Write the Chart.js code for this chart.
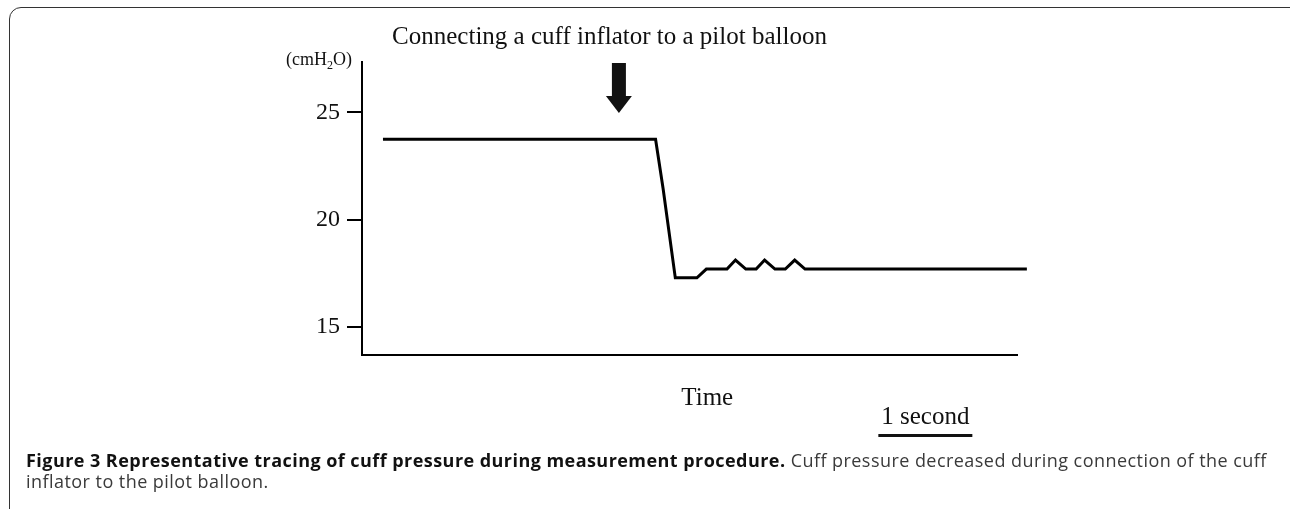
<!DOCTYPE html>
<html>
<head>
<meta charset="utf-8">
<script src="https://cdn.jsdelivr.net/npm/chart.js@4.4.0/dist/chart.umd.min.js"></script>
<style>
  html, body { margin: 0; padding: 0; background: #fff; }
  body { width: 1290px; height: 509px; position: relative; overflow: hidden; }
  #frame {
    position: absolute; left: 9px; top: 7px; width: 1300px; height: 520px;
    border: 1.5px solid #333; border-radius: 12px; box-sizing: border-box;
  }
  #wrap { position: absolute; left: 0; top: 0; width: 1290px; height: 509px; }
  #caption {
    position: absolute; left: 26px; top: 450px; width: 1262px;
    font-family: "Open Sans", sans-serif; font-size: 18px; line-height: 21px;
    letter-spacing: 0.45px; color: #3a3a3a; white-space: nowrap;
  }
  #caption b { color: #111; }
</style>
</head>
<body>
<div id="frame"></div>
<div id="wrap"><canvas id="chart1"></canvas></div>
<div id="caption"><b>Figure 3 Representative tracing of cuff pressure during measurement procedure.</b> Cuff pressure decreased during connection of the cuff<br>inflator to the pilot balloon.</div>

<script>
// time in seconds, pressure in cmH2O
var timeSec  = [0, 2.90, 2.98, 3.11, 3.34, 3.44, 3.66, 3.75, 3.86, 3.97, 4.06, 4.17, 4.28, 4.38, 4.49, 6.85];
var pressure = [23.75, 23.75, 21.45, 17.28, 17.28, 17.69, 17.69, 18.11, 17.69, 17.69, 18.11, 17.69, 17.69, 18.11, 17.69, 17.69];
var yTicks = [15, 20, 25];

var eventLabel = "Connecting a cuff inflator to a pilot balloon";
var eventTime = 2.51;      // where the arrow points
var scaleBar = [5.27, 6.27]; // 1 second

var points = [];
for (var i = 0; i < timeSec.length; i++) {
    points.push({x: timeSec[i], y: pressure[i]});
}

var serif = '"Liberation Serif", "Times New Roman", serif';

// texts and arrow around the plot
var extras = {
    id: "extras",
    afterDraw: function(chart) {
        var ctx = chart.ctx;
        var xs = chart.scales.x;
        var area = chart.chartArea;
        ctx.save();
        ctx.fillStyle = "#111";

        // label above the arrow
        ctx.font = "25px " + serif;
        ctx.textAlign = "center";
        ctx.textBaseline = "alphabetic";
        ctx.fillText(eventLabel, xs.getPixelForValue(2.41), area.top - 18);

        // arrow
        var ax = xs.getPixelForValue(eventTime);
        ctx.fillRect(ax - 7, area.top + 1, 14, 35);
        ctx.beginPath();
        ctx.moveTo(ax - 13, area.top + 34);
        ctx.lineTo(ax + 13, area.top + 34);
        ctx.lineTo(ax, area.top + 51);
        ctx.closePath();
        ctx.fill();

        // unit (cmH2O) with subscript
        ctx.textAlign = "left";
        var right = area.left - 10;
        var base = area.top + 3;
        ctx.font = "18px " + serif;
        var w1 = ctx.measureText("(cmH").width;
        var w3 = ctx.measureText("O)").width;
        ctx.font = "12px " + serif;
        var w2 = ctx.measureText("2").width;
        var left = right - w1 - w2 - w3;
        ctx.font = "18px " + serif;
        ctx.fillText("(cmH", left, base);
        ctx.fillText("O)", left + w1 + w2, base);
        ctx.font = "12px " + serif;
        ctx.fillText("2", left + w1, base + 4);

        // Time label
        ctx.font = "25px " + serif;
        ctx.textAlign = "center";
        ctx.fillText("Time", xs.getPixelForValue(3.45), area.bottom + 50);

        // 1 second scale bar
        var b0 = xs.getPixelForValue(scaleBar[0]);
        var b1 = xs.getPixelForValue(scaleBar[1]);
        ctx.fillText("1 second", (b0 + b1) / 2, area.bottom + 69);
        ctx.fillRect(b0, area.bottom + 79, b1 - b0, 3);

        ctx.restore();
    }
};

var myChart = document.getElementById("chart1").getContext("2d");
var chart = new Chart(myChart, {
    type: "line",
    data: {
        datasets: [
            {
                label: "Cuff pressure",
                data: points,
                borderColor: "#000",
                borderWidth: 3,
                pointRadius: 0,
                tension: 0,
                fill: false,
                clip: false
            }
        ]
    },
    options: {
        responsive: true,
        maintainAspectRatio: false,
        animation: false,
        layout: {
            padding: {left: 302, right: 273, top: 62, bottom: 154}
        },
        plugins: {
            legend: {display: false},
            title: {display: false},
            tooltip: {enabled: false}
        },
        scales: {
            x: {
                type: "linear",
                min: -0.223,
                max: 6.745,
                ticks: {display: false},
                grid: {display: false},
                border: {display: true, color: "#000", width: 2},
                afterFit: function(scale) { scale.height = 0; }
            },
            y: {
                type: "linear",
                min: 13.68,
                max: 27.35,
                afterBuildTicks: function(scale) {
                    scale.ticks = yTicks.map(function(v) { return {value: v}; });
                },
                afterFit: function(scale) { scale.width = 60; },
                ticks: {
                    color: "#111",
                    padding: 7,
                    font: {family: serif, size: 24}
                },
                grid: {
                    drawOnChartArea: false,
                    drawTicks: true,
                    tickLength: 15,
                    color: "#000",
                    lineWidth: 2
                },
                border: {display: true, color: "#000", width: 2}
            }
        }
    },
    plugins: [extras]
});
</script>
</body>
</html>
